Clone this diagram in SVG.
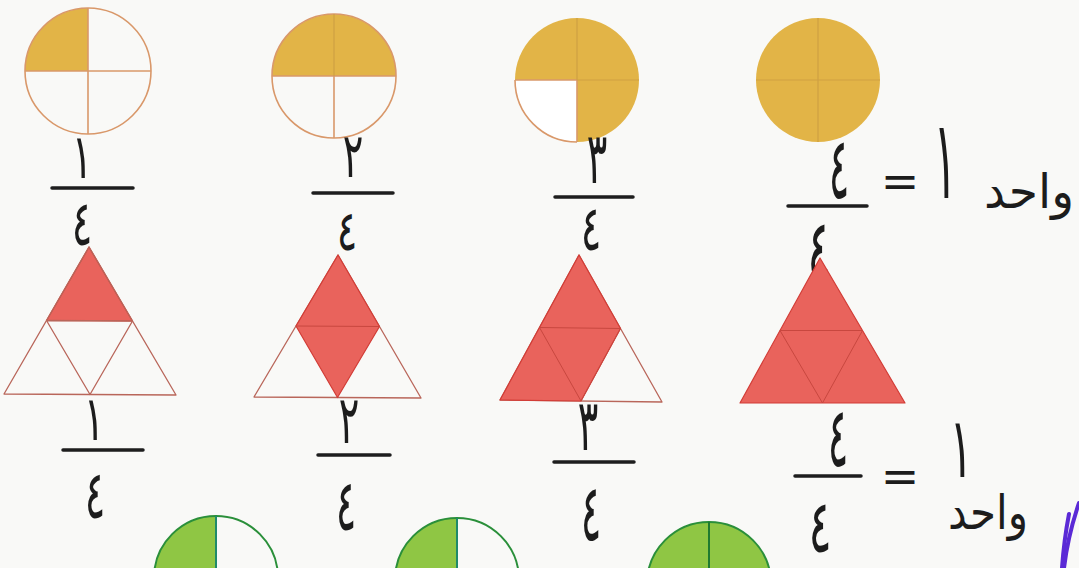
<svg xmlns="http://www.w3.org/2000/svg" width="1079" height="568" viewBox="0 0 1079 568">
<style>
.bg{fill:#f9f9f7}
.gold{fill:#e2b447}
.cedge{fill:none;stroke:#d9986a;stroke-width:1.6}
.cline{stroke:#d9986a;stroke-width:1.6}
.fline{stroke:#cfa043;stroke-width:1.2}
.red{fill:#e9635c;stroke:#d23c36;stroke-width:1.2;stroke-linejoin:round}
.tedge{fill:none;stroke:#b9665a;stroke-width:1.3;stroke-linejoin:round}
.rline{stroke:#c8473f;stroke-width:1}
.green{fill:#8fc644}
.gedge{fill:none;stroke:#2a8f3a;stroke-width:2}
.bar{stroke:#1e1e1e;stroke-width:3.5;stroke-linecap:round}
.hw{font-family:"DejaVu Sans",sans-serif;fill:#1c1c1c;text-anchor:middle;font-size:48px}
.eq{font-family:"DejaVu Sans",sans-serif;fill:#1c1c1c;text-anchor:middle;font-size:46px}
.pen{fill:none;stroke:#5b2ad6;stroke-width:4;stroke-linecap:round}
</style>
<rect class="bg" x="0" y="0" width="1079" height="568"/>

<g id="circle1">
<path class="gold" d="M88,71 L25,71 A63,63 0 0 1 88,8 Z"/>
<circle class="cedge" cx="88" cy="71" r="63"/>
<line class="cline" x1="25" y1="71" x2="151" y2="71"/>
<line class="cline" x1="88" y1="8" x2="88" y2="134"/>
</g>
<g id="circle2">
<path class="gold" d="M272,76 A62,62 0 0 1 396,76 Z"/>
<circle class="cedge" cx="334" cy="76" r="62"/>
<line class="cline" x1="272" y1="76" x2="396" y2="76"/>
<line class="cline" x1="334" y1="76" x2="334" y2="138"/>
<line class="fline" x1="334" y1="14" x2="334" y2="76"/>
</g>
<g id="circle3">
<circle class="gold" cx="577" cy="80" r="62"/>
<path fill="#ffffff" d="M577,80 L577,142 A62,62 0 0 1 515,80 Z"/>
<path class="cedge" d="M515,80 A62,62 0 0 0 577,142"/>
<line class="cline" x1="515" y1="80" x2="577" y2="80"/>
<line class="cline" x1="577" y1="80" x2="577" y2="142"/>
<line class="fline" x1="577" y1="18" x2="577" y2="80"/>
<line class="fline" x1="577" y1="80" x2="639" y2="80"/>
</g>
<g id="circle4">
<circle class="gold" cx="818" cy="80" r="62"/>
<line class="fline" x1="756" y1="80" x2="880" y2="80"/>
<line class="fline" x1="818" y1="18" x2="818" y2="142"/>
</g>

<g id="frac-top1">
<text class="hw" transform="translate(82,178) scale(0.8,1.3)">١</text>
<line class="bar" x1="52" y1="188" x2="133" y2="188"/>
<text class="hw" transform="translate(82,245) scale(0.8,1.3)">٤</text>
</g>
<g id="frac-top2">
<text class="hw" transform="translate(353,177) scale(0.8,1.3)">٢</text>
<line class="bar" x1="313" y1="193" x2="393" y2="193"/>
<text class="hw" transform="translate(347,250) scale(0.8,1.17)">٤</text>
</g>
<g id="frac-top3">
<text class="hw" transform="translate(597,183) scale(0.8,1.5)">٣</text>
<line class="bar" x1="555" y1="197" x2="633" y2="197"/>
<text class="hw" transform="translate(591,250) scale(0.8,1.3)">٤</text>
</g>
<g id="frac-top4">
<text class="hw" transform="translate(839,198) scale(0.8,1.8)">٤</text>
<line class="bar" x1="788" y1="206" x2="867" y2="206"/>
<text class="hw" transform="translate(819,280) scale(0.9,1.8)">٤</text>
<text class="eq" x="900" y="197">=</text>
<text class="hw" transform="translate(945,198) scale(0.9,2.3)">١</text>
<text class="hw" x="1029" y="208" font-size="50" textLength="90" lengthAdjust="spacingAndGlyphs">واحد</text>
</g>

<g id="triangle1">
<polygon class="red" points="89,247 46.5,320.5 132.5,321"/>
<polygon class="tedge" points="89,247 4,394 176,395"/>
<polyline class="tedge" points="46.5,320.5 90,394.5 132.5,321 46.5,320.5"/>
</g>
<g id="triangle2">
<polygon class="tedge" points="338,255 254,397 421,398"/>
<polygon class="red" points="338,255 296,326 337.5,397.5 379.5,326.5"/>
<line class="rline" x1="296" y1="326" x2="379.5" y2="326.5"/>
</g>
<g id="triangle3">
<polygon class="tedge" points="579,255 500,400 662,402"/>
<polygon class="red" points="579,255 500,400 581,401 620.5,328.5"/>
<polyline class="rline" fill="none" points="539.5,327.5 620.5,328.5 581,401 539.5,327.5"/>
</g>
<g id="triangle4">
<polygon class="red" points="820,258 740,403 905,403"/>
<polyline class="rline" fill="none" points="780,330.5 862.5,330.5 822.5,403 780,330.5"/>
</g>

<g id="frac-bot1">
<text class="hw" transform="translate(94,440) scale(0.8,1.3)">١</text>
<line class="bar" x1="63" y1="450" x2="143" y2="450"/>
<text class="hw" transform="translate(95,518) scale(0.8,1.4)">٤</text>
</g>
<g id="frac-bot2">
<text class="hw" transform="translate(349,443) scale(0.8,1.4)">٢</text>
<line class="bar" x1="318" y1="455" x2="390" y2="455"/>
<text class="hw" transform="translate(346,530) scale(0.8,1.5)">٤</text>
</g>
<g id="frac-bot3">
<text class="hw" transform="translate(588,450) scale(0.8,1.5)">٣</text>
<line class="bar" x1="554" y1="462" x2="634" y2="462"/>
<text class="hw" transform="translate(591,540) scale(0.8,1.65)">٤</text>
</g>
<g id="frac-bot4">
<text class="hw" transform="translate(838,466) scale(0.8,1.75)">٤</text>
<line class="bar" x1="795" y1="476" x2="861" y2="476"/>
<text class="hw" transform="translate(820,552) scale(0.9,1.55)">٤</text>
<text class="eq" x="900" y="492">=</text>
<text class="hw" transform="translate(961,477) scale(0.9,1.75)">١</text>
<text class="hw" x="988" y="529" font-size="44" textLength="80" lengthAdjust="spacingAndGlyphs">واحد</text>
</g>

<g id="circle5">
<path class="green" d="M216,516 A62,62 0 0 0 154,578 L216,578 Z"/>
<circle class="gedge" cx="216" cy="578" r="62"/>
<line stroke="#1f8a6a" stroke-width="2" x1="216" y1="516" x2="216" y2="568"/>
</g>
<g id="circle6">
<path class="green" d="M457,518 A62,62 0 0 0 395,580 L457,580 Z"/>
<circle class="gedge" cx="457" cy="580" r="62"/>
<line stroke="#1f8a6a" stroke-width="2" x1="457" y1="518" x2="457" y2="568"/>
</g>
<g id="circle7">
<circle class="green" cx="709" cy="584" r="62"/>
<circle class="gedge" cx="709" cy="584" r="62"/>
<line stroke="#1f7a30" stroke-width="2" x1="709" y1="522" x2="709" y2="568"/>
</g>

<g id="pen-mark">
<path class="pen" d="M1069,514 Q1064,540 1062,568"/>
<path class="pen" d="M1079,503 Q1068,535 1064,568"/>
</g>
</svg>
